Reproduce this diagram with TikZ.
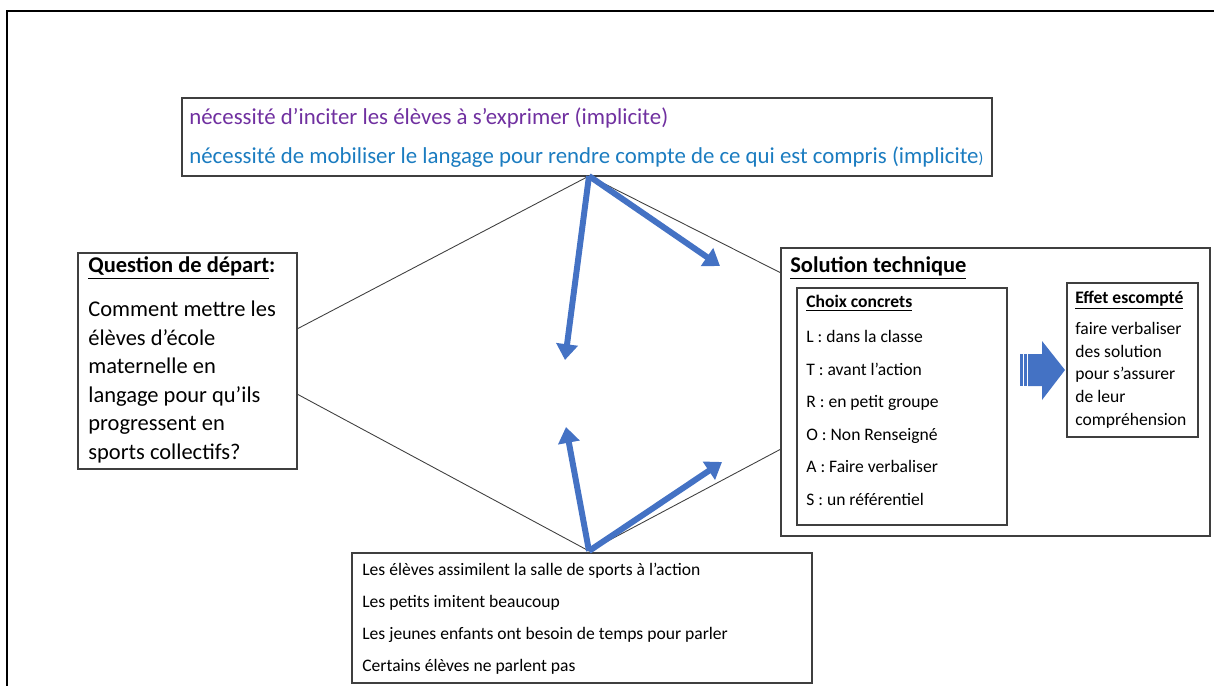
\documentclass[tikz,border=0pt]{standalone}
\usepackage{fontspec}
\setmainfont{Carlito}
\usepackage{xcolor}
\definecolor{needpurple}{HTML}{7030A0}
\definecolor{needblue}{HTML}{1B7CC0}
\definecolor{arrowblue}{HTML}{4472C4}
\definecolor{boxline}{HTML}{3F3F3F}
\usepackage{tikz}
\usetikzlibrary{positioning, fit, arrows.meta}

\tikzset{
  box/.style={draw=boxline, line width=0.6pt, inner sep=0pt},
  txt/.style={anchor=west, inner sep=0pt, align=left},
  bigarrow/.style={line width=3.4pt, color=arrowblue, -{Triangle[width=12pt, length=9pt]}},
  thinlink/.style={draw=boxline, line width=0.5pt}
}
\newcommand{\bigfont}{\fontsize{12.8}{16.2}\selectfont}
\newcommand{\topfont}{\fontsize{13}{16}\selectfont}
\newcommand{\smallfont}[1]{\fontsize{10}{#1}\selectfont}

\begin{document}
\begin{tikzpicture}[x=0.02cm, y=-0.02cm]
  \useasboundingbox (0,0) rectangle (1214,686);
  % Frame
  \draw[line width=1.3pt] (7,686) -- (7,11) -- (1214,11);

  % Boxes
  \node[box, fit={(182,98) (992,176)}] (need) {};
  \node[box, fit={(78,253) (297,469)}] (question) {};
  \node[box, fit={(781,248) (1210,536)}] (solution) {};
  \node[box, fit={(797,288) (1007,525)}] (choix) {};
  \node[box, fit={(1067,283) (1198,437)}] (effet) {};
  \node[box, fit={(352,553) (812,683)}] (constat) {};

  % Texts
  \node[txt, text=needpurple, font=\topfont] (need1) at (189,118) {nécessité d’inciter les élèves à s’exprimer (implicite)};
  \node[txt, text=needblue, font=\topfont] (need2) at (189,157) {nécessité de mobiliser le langage pour rendre compte de ce qui est compris (implicite{\fontsize{9}{10}\selectfont)}};
  \node[txt, font=\bigfont\bfseries] (qtitle) at (88,268) {\underline{Question de départ}:};
  \node[txt, font=\bigfont] (qtext) at (88,382) {Comment mettre les\\élèves d’école\\maternelle en\\langage pour qu’ils\\progressent en\\sports collectifs?};
  \node[txt, font=\bigfont\bfseries] (stitle) at (790,268) {\underline{Solution technique}};
  \node[txt, font=\smallfont{12}\bfseries] (ctitle) at (806,303) {\underline{Choix concrets}};
  \node[txt, font=\smallfont{18.5}] (ctext) at (806,418) {L : dans la classe\\T : avant l’action\\R : en petit groupe\\O : Non Renseigné\\A : Faire verbaliser\\S : un référentiel};
  \node[txt, font=\smallfont{12}\bfseries] (etitle) at (1075,300) {\underline{Effet escompté}};
  \node[txt, font=\smallfont{12.9}] (etext) at (1075,375) {faire verbaliser\\des solution\\pour s’assurer\\de leur\\compréhension};
  \node[txt, font=\smallfont{18.2}] (ktext) at (362,619) {Les élèves assimilent la salle de sports à l’action\\Les petits imitent beaucoup\\Les jeunes enfants ont besoin de temps pour parler\\Certains élèves ne parlent pas};

  % Striped block arrow
  \fill[arrowblue] (1020,354) rectangle (1022.5,386);
  \fill[arrowblue] (1024,354) rectangle (1026.5,386);
  \fill[arrowblue] (1028,354) -- (1042,354) -- (1042,341) -- (1065,370) -- (1042,400) -- (1042,386) -- (1028,386) -- cycle;

  % Link points
  \coordinate (apexT) at (589,176);
  \coordinate (apexB) at (589,551);
  \coordinate (qa) at (297,329);
  \coordinate (qb) at (297,394);
  \coordinate (sa) at (781,273);
  \coordinate (sb) at (781,449);
  \coordinate (tipA) at (565,360);
  \coordinate (tipB) at (720,266);
  \coordinate (tipC) at (566,427);
  \coordinate (tipD) at (722,462);

  % Connections
  \draw[thinlink] (qa) -- (apexT) -- (sa);
  \draw[thinlink] (qb) -- (apexB) -- (sb);
  \draw[bigarrow] (apexT) -- (tipA);
  \draw[bigarrow] (apexT) -- (tipB);
  \draw[bigarrow] (apexB) -- (tipC);
  \draw[bigarrow] (apexB) -- (tipD);
\end{tikzpicture}
\end{document}
